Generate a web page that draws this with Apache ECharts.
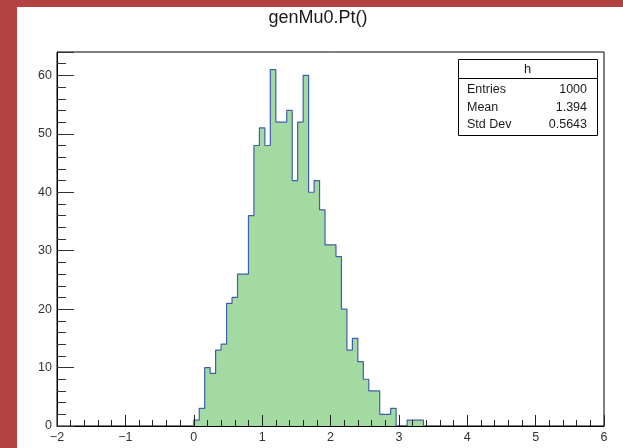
<!DOCTYPE html>
<html>
<head>
<meta charset="utf-8">
<script src="https://cdn.jsdelivr.net/npm/echarts@6/dist/echarts.min.js"></script>
<style>
  html, body { margin: 0; padding: 0; background: #ffffff; }
  #chart { width: 623px; height: 448px; }
</style>
</head>
<body>
<div id="chart"></div>
<script>
// Histogram "h": 100 bins on [-2, 6], filled from the generator-level muon pT
const histTitle = 'genMu0.Pt()';
const histName = 'h';
const axisMin = -2;
const axisMax = 6;
const binWidth = 0.08;

// Bin contents, starting with the bin whose low edge is 0
const firstBinLow = 0;
const binCounts = [
  1, 3, 10, 9, 13, 14, 21, 22, 26, 26,
  36, 48, 51, 48, 61, 52, 52, 54, 42, 52,
  60, 40, 42, 37, 31, 31, 29, 20, 13, 15,
  11, 8, 6, 6, 2, 2, 3, 0, 0, 1,
  1, 1
];

// Statistics box
const statLabels = ['Entries', 'Mean', 'Std Dev'];
const statValues = ['1000', '1.394', '0.5643'];

// Y range (1.05 x maximum bin)
const yMax = 64;

const FONT = '"Liberation Sans", Arial, Helvetica, sans-serif';
const FRAME_RED = '#b34343';

// Step outline: one point at each bin's low edge, closed down to zero at both ends
const points = [[firstBinLow, 0]];
binCounts.forEach((c, i) => {
  points.push([+(firstBinLow + i * binWidth).toFixed(2), c]);
});
points.push([+(firstBinLow + binCounts.length * binWidth).toFixed(2), 0]);

const chart = echarts.init(document.getElementById('chart'), null, { renderer: 'canvas' });

const statTop = 59, statLeft = 458, statW = 139, statH = 76, statHeader = 19;
const statRows = [89.5, 107.5, 125];

const graphics = [
  { type: 'rect', shape: { x: 0, y: 0, width: 17, height: 448 }, style: { fill: FRAME_RED }, z: 100 },
  { type: 'rect', shape: { x: 0, y: 0, width: 623, height: 7 }, style: { fill: FRAME_RED }, z: 100 },
  {
    type: 'text', x: 318, y: 18, z: 100,
    style: { text: histTitle, font: '18px ' + FONT, fill: '#1a1a1a', textAlign: 'center', textVerticalAlign: 'middle' }
  },
  {
    type: 'rect', z: 100,
    shape: { x: statLeft + 0.5, y: statTop + 0.5, width: statW, height: statH },
    style: { fill: '#ffffff', stroke: '#000000', lineWidth: 1 }
  },
  {
    type: 'line', z: 101,
    shape: { x1: statLeft + 0.5, y1: statTop + statHeader + 0.5, x2: statLeft + statW + 0.5, y2: statTop + statHeader + 0.5 },
    style: { stroke: '#000000', lineWidth: 1 }
  },
  {
    type: 'text', x: statLeft + statW / 2, y: statTop + statHeader / 2 + 0.5, z: 101,
    style: { text: histName, font: '13px ' + FONT, fill: '#1a1a1a', textAlign: 'center', textVerticalAlign: 'middle' }
  }
];
statLabels.forEach((lab, i) => {
  graphics.push({
    type: 'text', x: statLeft + 9, y: statRows[i], z: 101,
    style: { text: lab, font: '12.5px ' + FONT, fill: '#1a1a1a', textAlign: 'left', textVerticalAlign: 'middle' }
  });
  graphics.push({
    type: 'text', x: statLeft + statW - 10, y: statRows[i], z: 101,
    style: { text: statValues[i], font: '12.5px ' + FONT, fill: '#1a1a1a', textAlign: 'right', textVerticalAlign: 'middle' }
  });
});

const labelStyle = { color: '#333333', fontSize: 12.5, fontFamily: FONT };

chart.setOption({
  animation: false,
  backgroundColor: '#ffffff',
  grid: {
    left: 57, right: 19, top: 52, bottom: 22,
    show: true, borderColor: '#000000', borderWidth: 1, backgroundColor: 'transparent'
  },
  xAxis: {
    type: 'value', min: axisMin, max: axisMax, interval: 1, z: 5,
    axisLine: { show: true, onZero: false, lineStyle: { color: '#000000', width: 1 } },
    axisTick: { show: true, inside: true, length: 11, lineStyle: { color: '#222222' } },
    minorTick: { show: true, splitNumber: 5, length: 6, lineStyle: { color: '#222222' } },
    axisLabel: Object.assign({ margin: 5, formatter: v => String(v).replace('-', '\u2212') }, labelStyle),
    splitLine: { show: false },
    minorSplitLine: { show: false }
  },
  yAxis: [
    {
      type: 'value', min: 0, max: yMax, interval: 10, position: 'left', z: 5,
      axisLine: { show: true, onZero: false, lineStyle: { color: '#000000', width: 1 } },
      axisTick: { show: true, inside: true, length: 17, lineStyle: { color: '#333333' } },
      axisLabel: Object.assign({ margin: 5, formatter: v => (v % 10 === 0 ? String(v) : '') }, labelStyle),
      splitLine: { show: false }
    },
    {
      type: 'value', min: 0, max: yMax, interval: 2, position: 'left', z: 5,
      axisLine: { show: false, onZero: false },
      axisTick: { show: true, inside: true, length: 9, lineStyle: { color: '#333333' } },
      axisLabel: { show: false },
      splitLine: { show: false }
    }
  ],
  series: [{
    type: 'line',
    name: histName,
    data: points,
    step: 'end',
    symbol: 'none',
    z: 2,
    lineStyle: { color: '#3f5fae', width: 1.2 },
    areaStyle: { color: '#a2daa2', opacity: 1 },
    silent: true
  }],
  graphic: graphics
});
</script>
</body>
</html>
